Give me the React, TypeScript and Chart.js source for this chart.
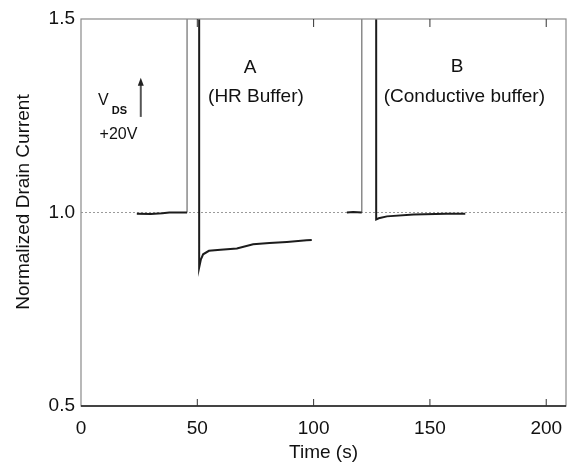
import React, { useEffect, useRef } from 'react';
import { Chart, registerables } from 'chart.js';

Chart.register(...registerables);

const FONT = '"Liberation Sans", Arial, Helvetica, sans-serif';

// Axis ticks and titles
const xTickValues = [0, 50, 100, 150, 200];
const yTickValues = [0.5, 1.0, 1.5];
const xTitle = 'Time (s)';
const yTitle = 'Normalized Drain Current';
const referenceLevel = 1.0;

// Baseline before stress A
const preATime = [24, 30, 35, 38, 45.6];
const preAValue = [0.997, 0.996, 0.998, 1.0, 1.0];
// V_DS step (A)
const stepATime = [45.6, 45.6];
const stepAValue = [1.0, 1.5];
// Recovery A (HR buffer)
const curveATime = [50.8, 50.8, 51.5, 52.5, 55, 60, 67, 74, 81, 88.5, 97, 99.2];
const curveAValue = [1.5, 0.858, 0.878, 0.892, 0.901, 0.904, 0.907, 0.918, 0.921, 0.924, 0.928, 0.929];
// Baseline before stress B
const preBTime = [114.3, 117, 120.7];
const preBValue = [1.0, 1.001, 1.0];
// V_DS step (B)
const stepBTime = [120.7, 120.7];
const stepBValue = [1.0, 1.5];
// Recovery B (conductive buffer)
const curveBTime = [126.9, 126.9, 128, 131.5, 143, 157, 165.2];
const curveBValue = [1.5, 0.982, 0.985, 0.99, 0.995, 0.997, 0.997];

// Text annotations (data coordinates)
const labelA = 'A';
const labelASub = '(HR Buffer)';
const labelB = 'B';
const labelBSub = '(Conductive buffer)';
const vdsMain = 'V';
const vdsSub = 'DS';
const vdsValue = '+20V';

const toPts = (xs: number[], ys: number[]) => xs.map((x, i) => ({ x, y: ys[i] }));

const DARK = '#1c1c1c';
const GRAY = '#8a8a8a';

const decorPlugin = {
  id: 'decor',
  beforeDatasetsDraw(chart: any) {
    const { ctx, chartArea, scales } = chart;
    const y = scales.y.getPixelForValue(referenceLevel);
    ctx.save();
    ctx.strokeStyle = '#9a9a9a';
    ctx.lineWidth = 1;
    ctx.setLineDash([2, 2]);
    ctx.beginPath();
    ctx.moveTo(chartArea.left, y);
    ctx.lineTo(chartArea.right, y);
    ctx.stroke();
    ctx.restore();
  },
  afterDatasetsDraw(chart: any) {
    const { ctx, chartArea, scales } = chart;
    const { left, right, top, bottom } = chartArea;
    const xs = scales.x;
    const ys = scales.y;
    ctx.save();
    // frame
    ctx.strokeStyle = GRAY;
    ctx.lineWidth = 1.2;
    ctx.strokeRect(left, top, right - left, bottom - top);
    ctx.strokeStyle = DARK;
    ctx.lineWidth = 1.5;
    ctx.beginPath();
    ctx.moveTo(left, bottom);
    ctx.lineTo(right, bottom);
    ctx.stroke();
    // inner ticks
    ctx.strokeStyle = '#333';
    ctx.lineWidth = 1;
    xTickValues.forEach((v) => {
      if (v === 0) return;
      const px = xs.getPixelForValue(v);
      ctx.beginPath();
      ctx.moveTo(px, bottom);
      ctx.lineTo(px, bottom - 7);
      ctx.moveTo(px, top);
      ctx.lineTo(px, top + 8);
      ctx.stroke();
    });
    // annotations
    ctx.fillStyle = '#111';
    ctx.textAlign = 'center';
    ctx.textBaseline = 'middle';
    ctx.font = `19px ${FONT}`;
    ctx.fillText(labelA, xs.getPixelForValue(72.7), ys.getPixelForValue(1.374));
    ctx.fillText(labelASub, xs.getPixelForValue(75.2), ys.getPixelForValue(1.299));
    ctx.fillText(labelB, xs.getPixelForValue(161.7), ys.getPixelForValue(1.377));
    ctx.fillText(labelBSub, xs.getPixelForValue(164.8), ys.getPixelForValue(1.3));
    // V_DS
    ctx.textAlign = 'left';
    ctx.font = `16px ${FONT}`;
    ctx.fillText(vdsMain, xs.getPixelForValue(7.3), ys.getPixelForValue(1.289));
    ctx.font = `bold 11px ${FONT}`;
    ctx.fillText(vdsSub, xs.getPixelForValue(13.2), ys.getPixelForValue(1.262));
    ctx.font = `16px ${FONT}`;
    ctx.fillText(vdsValue, xs.getPixelForValue(8.0), ys.getPixelForValue(1.201));
    // arrow
    const ax = xs.getPixelForValue(25.7);
    const ay0 = ys.getPixelForValue(1.247);
    const ay1 = ys.getPixelForValue(1.348);
    ctx.strokeStyle = '#555';
    ctx.lineWidth = 2;
    ctx.beginPath();
    ctx.moveTo(ax, ay0);
    ctx.lineTo(ax, ay1 + 6);
    ctx.stroke();
    ctx.fillStyle = '#222';
    ctx.beginPath();
    ctx.moveTo(ax, ay1);
    ctx.lineTo(ax - 3, ay1 + 8);
    ctx.lineTo(ax + 3, ay1 + 8);
    ctx.closePath();
    ctx.fill();
    // axis titles
    ctx.fillStyle = '#111';
    ctx.font = `19px ${FONT}`;
    ctx.textAlign = 'center';
    ctx.textBaseline = 'middle';
    ctx.fillText(xTitle, (left + right) / 2, 453);
    ctx.save();
    ctx.translate(24, 202);
    ctx.rotate(-Math.PI / 2);
    ctx.fillText(yTitle, 0, 0);
    ctx.restore();
    ctx.restore();
  },
};

export default function App() {
  const ref = useRef<HTMLCanvasElement | null>(null);
  useEffect(() => {
    if (!ref.current) return;
    const dark = { borderColor: DARK, borderWidth: 2, pointRadius: 0, tension: 0, fill: false };
    const thin = { borderColor: GRAY, borderWidth: 1.5, pointRadius: 0, tension: 0, fill: false };
    const chart = new Chart(ref.current, {
      type: 'line',
      data: {
        datasets: [
          { label: 'Baseline A', data: toPts(preATime, preAValue), ...dark },
          { label: 'Step A', data: toPts(stepATime, stepAValue), ...thin },
          { label: 'A (HR Buffer)', data: toPts(curveATime, curveAValue), ...dark },
          { label: 'Baseline B', data: toPts(preBTime, preBValue), ...dark },
          { label: 'Step B', data: toPts(stepBTime, stepBValue), ...thin },
          { label: 'B (Conductive buffer)', data: toPts(curveBTime, curveBValue), ...dark },
        ],
      },
      options: {
        animation: false,
        responsive: false,
        maintainAspectRatio: false,
        layout: { padding: { left: 0, right: 3, top: 19, bottom: 0 } },
        plugins: { legend: { display: false }, tooltip: { enabled: false } },
        scales: {
          x: {
            type: 'linear',
            min: 0,
            max: 208.5,
            afterBuildTicks: (s: any) => {
              s.ticks = xTickValues.map((v) => ({ value: v }));
            },
            afterFit: (s: any) => {
              s.height = 57;
              s.paddingLeft = 0;
              s.paddingRight = 0;
            },
            grid: { display: false, drawTicks: false },
            border: { display: false },
            ticks: {
              padding: 11,
              color: '#111',
              font: { family: FONT, size: 19 },
              maxRotation: 0,
              autoSkip: false,
              callback: (v: any) => String(v),
            },
          },
          y: {
            type: 'linear',
            min: 0.5,
            max: 1.5,
            afterBuildTicks: (s: any) => {
              s.ticks = yTickValues.map((v) => ({ value: v }));
            },
            afterFit: (s: any) => {
              s.width = 81;
              s.paddingTop = 0;
              s.paddingBottom = 0;
            },
            grid: { display: false, drawTicks: false },
            border: { display: false },
            ticks: {
              padding: 6,
              color: '#111',
              font: { family: FONT, size: 19 },
              autoSkip: false,
              callback: (v: any) => Number(v).toFixed(1),
            },
          },
        },
      },
      plugins: [decorPlugin],
    });
    return () => chart.destroy();
  }, []);
  return (
    <div style={{ position: 'absolute', left: 0, top: 0, width: 569, height: 463, background: '#fff' }}>
      <canvas ref={ref} width={569} height={463} style={{ width: 569, height: 463 }} />
    </div>
  );
}
